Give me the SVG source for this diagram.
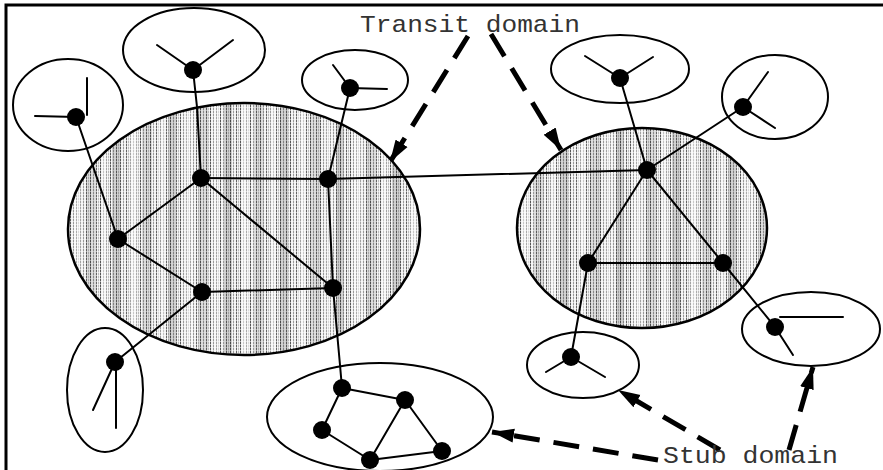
<svg xmlns="http://www.w3.org/2000/svg" width="883" height="470" viewBox="0 0 883 470">
<defs>
<style>
.frame{stroke:#000;stroke-width:3;fill:none}
.edge{stroke:#000;stroke-width:2;fill:none;stroke-linecap:round}
.node{fill:#000}
.stub{fill:none;stroke:#000;stroke-width:2}
.transit{stroke:#000;stroke-width:2.5}
.dash{stroke:#000;stroke-width:5;fill:none;stroke-dasharray:26 14}
.lbl{font-family:"Liberation Mono","DejaVu Sans Mono",monospace;font-size:24px;fill:#333}
</style>
<pattern id="tex" patternUnits="userSpaceOnUse" width="10" height="3">
<rect width="10" height="3" fill="#f2f2f2"/>
<rect x="0" y="0" width="1" height="3" fill="#555"/>
<rect x="3" y="0" width="1" height="3" fill="#999"/>
<rect x="6" y="0" width="1" height="3" fill="#666"/>
<rect x="8" y="0" width="1" height="3" fill="#bbb"/>
<rect x="0" y="2" width="10" height="1" fill="#fff" opacity="0.55"/>
</pattern>
<pattern id="bands" patternUnits="userSpaceOnUse" width="56" height="8">
<rect x="0" y="0" width="8" height="8" fill="#000" opacity="0.15"/>
<rect x="18" y="0" width="7" height="8" fill="#fff" opacity="0.45"/>
<rect x="30" y="0" width="10" height="8" fill="#000" opacity="0.1"/>
<rect x="46" y="0" width="6" height="8" fill="#fff" opacity="0.4"/>
</pattern>
<marker id="ah" markerUnits="userSpaceOnUse" markerWidth="24" markerHeight="16" refX="22" refY="8" orient="auto">
<path d="M0,1 L22,8 L0,15 Z" fill="#000"/>
</marker>
</defs>
<rect width="883" height="470" fill="#fff"/>
<path class="frame" d="M6,470 V5 H883"/>

<g id="transit-left">
<ellipse cx="244" cy="229" rx="176" ry="126" fill="url(#tex)"/>
<ellipse cx="244" cy="229" rx="176" ry="126" fill="url(#bands)" class="transit"/>
</g>
<g id="transit-right">
<ellipse cx="642" cy="228" rx="125" ry="100" fill="url(#tex)"/>
<ellipse cx="642" cy="228" rx="125" ry="100" fill="url(#bands)" class="transit"/>
</g>

<g id="stub1"><ellipse class="stub" cx="68" cy="105" rx="55" ry="46"/></g>
<g id="stub2"><ellipse class="stub" cx="194" cy="50" rx="71" ry="42"/></g>
<g id="stub3"><ellipse class="stub" cx="355" cy="80" rx="53" ry="30"/></g>
<g id="stub4"><ellipse class="stub" cx="620" cy="69" rx="69" ry="34"/></g>
<g id="stub5"><ellipse class="stub" cx="775" cy="97" rx="53" ry="42"/></g>
<g id="stub6"><ellipse class="stub" cx="105" cy="390" rx="38" ry="62"/></g>
<g id="stub7"><ellipse class="stub" cx="380" cy="417" rx="113" ry="54"/></g>
<g id="stub8"><ellipse class="stub" cx="583" cy="365" rx="56" ry="33"/></g>
<g id="stub9"><ellipse class="stub" cx="811" cy="329" rx="69" ry="37"/></g>

<g id="connectors">
<line class="edge" x1="201" y1="178" x2="328" y2="179"/>
<line class="edge" x1="328" y1="179" x2="647" y2="170"/>
<line class="edge" x1="201" y1="178" x2="118" y2="239"/>
<line class="edge" x1="201" y1="178" x2="333" y2="288"/>
<line class="edge" x1="118" y1="239" x2="202" y2="292"/>
<line class="edge" x1="202" y1="292" x2="333" y2="288"/>
<line class="edge" x1="328" y1="179" x2="333" y2="288"/>
<line class="edge" x1="118" y1="239" x2="76" y2="117"/>
<polyline class="edge" points="193,70 197,107 201,178"/>
<line class="edge" x1="328" y1="179" x2="350" y2="88"/>
<line class="edge" x1="202" y1="292" x2="115" y2="362"/>
<polyline class="edge" points="333,288 340,365 342,388"/>
<line class="edge" x1="647" y1="170" x2="588" y2="263"/>
<line class="edge" x1="647" y1="170" x2="723" y2="263"/>
<line class="edge" x1="588" y1="263" x2="723" y2="263"/>
<line class="edge" x1="647" y1="170" x2="620" y2="78"/>
<line class="edge" x1="647" y1="170" x2="743" y2="107"/>
<line class="edge" x1="588" y1="263" x2="571" y2="357"/>
<line class="edge" x1="723" y1="263" x2="775" y2="327"/>
<line class="edge" x1="76" y1="117" x2="35" y2="116"/>
<line class="edge" x1="87" y1="115" x2="87" y2="78"/>
<line class="edge" x1="193" y1="70" x2="157" y2="45"/>
<line class="edge" x1="193" y1="70" x2="233" y2="40"/>
<line class="edge" x1="350" y1="88" x2="333" y2="65"/>
<line class="edge" x1="350" y1="88" x2="387" y2="89"/>
<line class="edge" x1="620" y1="78" x2="585" y2="56"/>
<line class="edge" x1="620" y1="78" x2="653" y2="57"/>
<line class="edge" x1="743" y1="107" x2="768" y2="72"/>
<line class="edge" x1="743" y1="107" x2="775" y2="128"/>
<line class="edge" x1="115" y1="362" x2="93" y2="410"/>
<line class="edge" x1="116" y1="362" x2="116" y2="428"/>
<line class="edge" x1="342" y1="388" x2="405" y2="400"/>
<line class="edge" x1="342" y1="388" x2="322" y2="430"/>
<line class="edge" x1="322" y1="430" x2="370" y2="460"/>
<line class="edge" x1="370" y1="460" x2="405" y2="400"/>
<line class="edge" x1="405" y1="400" x2="442" y2="451"/>
<line class="edge" x1="370" y1="460" x2="442" y2="451"/>
<line class="edge" x1="571" y1="357" x2="546" y2="372"/>
<line class="edge" x1="571" y1="357" x2="605" y2="377"/>
<line class="edge" x1="780" y1="317" x2="843" y2="317"/>
<line class="edge" x1="775" y1="327" x2="793" y2="355"/>
<line class="dash" x1="468" y1="36" x2="390" y2="162" marker-end="url(#ah)"/>
<line class="dash" x1="491" y1="34" x2="561" y2="150" marker-end="url(#ah)"/>
<line class="dash" x1="658" y1="460" x2="492" y2="432" marker-end="url(#ah)"/>
<line class="dash" x1="720" y1="450" x2="618" y2="390" marker-end="url(#ah)"/>
<line class="dash" x1="789" y1="450" x2="813" y2="367" marker-end="url(#ah)"/>
</g>

<g id="nodes">
<circle class="node" cx="201" cy="178" r="9"/>
<circle class="node" cx="328" cy="179" r="9"/>
<circle class="node" cx="118" cy="239" r="9"/>
<circle class="node" cx="202" cy="292" r="9"/>
<circle class="node" cx="333" cy="288" r="9"/>
<circle class="node" cx="647" cy="170" r="9"/>
<circle class="node" cx="588" cy="263" r="9"/>
<circle class="node" cx="723" cy="263" r="9"/>
<circle class="node" cx="76" cy="117" r="9"/>
<circle class="node" cx="193" cy="70" r="9"/>
<circle class="node" cx="350" cy="88" r="9"/>
<circle class="node" cx="620" cy="78" r="9"/>
<circle class="node" cx="743" cy="107" r="9"/>
<circle class="node" cx="115" cy="362" r="9"/>
<circle class="node" cx="342" cy="388" r="9"/>
<circle class="node" cx="405" cy="400" r="9"/>
<circle class="node" cx="322" cy="430" r="9"/>
<circle class="node" cx="370" cy="460" r="9"/>
<circle class="node" cx="442" cy="451" r="9"/>
<circle class="node" cx="571" cy="357" r="9"/>
<circle class="node" cx="775" cy="327" r="9"/>
</g>

<g id="labels">
<text class="lbl" x="360" y="32" textLength="220" lengthAdjust="spacingAndGlyphs">Transit domain</text>
<text class="lbl" x="663" y="463" textLength="175" lengthAdjust="spacingAndGlyphs">Stub domain</text>
</g>
</svg>
